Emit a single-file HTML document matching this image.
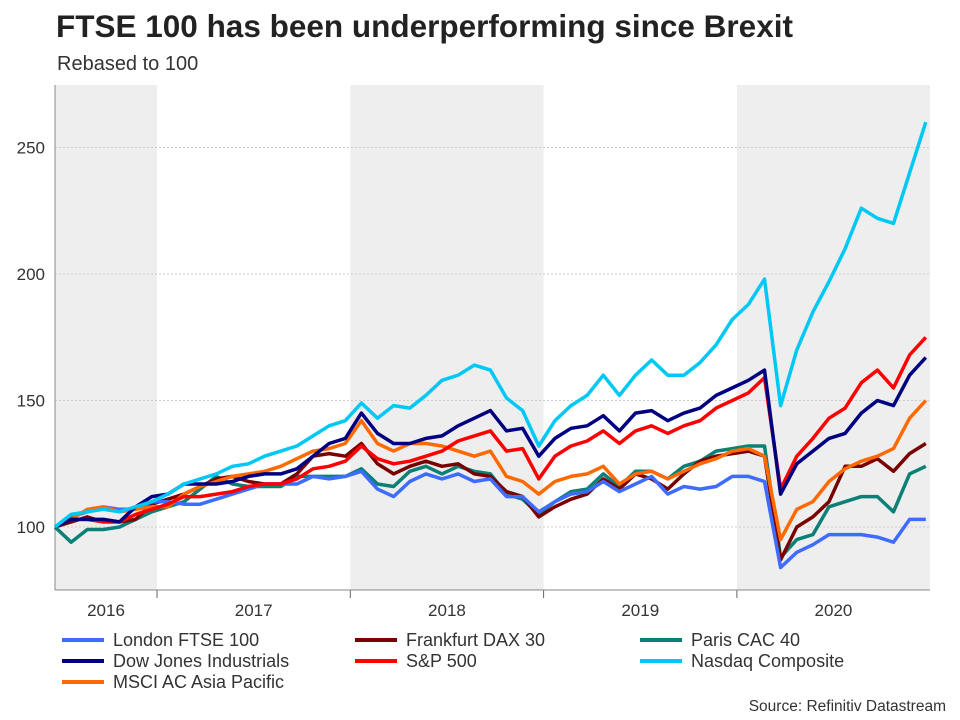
<!DOCTYPE html>
<html><head><meta charset="utf-8"><style>
body{margin:0;background:#fff;font-family:"Liberation Sans",sans-serif;}
</style></head><body>
<svg id="chart" width="960" height="720" viewBox="0 0 960 720" style="display:block;font-family:'Liberation Sans',sans-serif">
<text x="56" y="37" font-size="31.5" font-weight="bold" fill="#222">FTSE 100 has been underperforming since Brexit</text>
<text x="57" y="70" font-size="20" fill="#333">Rebased to 100</text>
<g id="bands"></g><g id="grid"></g><g id="axes"></g><g id="series"></g><g id="legend"></g>
<text x="946" y="711" font-size="15.5" fill="#333" text-anchor="end">Source: Refinitiv Datastream</text>
</svg>
<script>
const yTicks=[100,150,200,250];
const years=["2016","2017","2018","2019","2020"];
const names=["London FTSE 100","Frankfurt DAX 30","Paris CAC 40","Dow Jones Industrials","S&P 500","Nasdaq Composite","MSCI AC Asia Pacific"];
const colors=["#3d6cff","#7a0000","#0a8077","#000080","#ff0000","#00c8f5","#ff6a00"];
const ftse=[100,104,106,108,107,107,110,110,109,109,111,113,115,117,117,117,120,119,120,122,115,112,118,121,119,121,118,119,112,112,106,110,113,114,118,114,117,120,113,116,115,116,120,120,118,84,90,93,97,97,97,96,94,103,103];
const dax=[100,102,104,102,102,103,109,111,113,116,119,120,118,117,117,121,128,129,128,133,125,121,124,126,124,125,121,120,114,112,104,108,111,113,119,115,121,119,115,121,126,128,129,130,128,87,100,104,110,124,124,127,122,129,133];
const cac=[100,94,99,99,100,103,106,108,110,115,120,117,116,116,116,120,120,120,120,123,117,116,122,124,121,124,122,121,113,111,105,110,114,115,121,116,122,122,119,124,126,130,131,132,132,88,95,97,108,110,112,112,106,121,124];
const dow=[100,103,103,103,102,108,112,113,117,117,117,118,120,121,121,123,128,133,135,145,137,133,133,135,136,140,143,146,138,139,128,135,139,140,144,138,145,146,142,145,147,152,155,158,162,113,125,130,135,137,145,150,148,160,167];
const spx=[100,103,103,102,102,105,107,109,112,112,113,114,116,117,117,119,123,124,126,132,127,125,126,128,130,134,136,138,130,131,119,128,132,134,138,133,138,140,137,140,142,147,150,153,159,115,128,135,143,147,157,162,155,168,175];
const ndq=[100,105,106,107,106,108,110,113,117,119,121,124,125,128,130,132,136,140,142,149,143,148,147,152,158,160,164,162,151,146,132,142,148,152,160,152,160,166,160,160,165,172,182,188,198,148,170,185,197,210,226,222,220,240,260];
const asia=[100,103,107,108,106,107,108,108,113,116,118,120,121,122,124,127,130,131,133,142,133,130,133,133,132,130,128,130,120,118,113,118,120,121,124,117,121,122,119,122,125,127,130,131,128,95,107,110,118,123,126,128,131,143,150];
const seriesData=[ftse,dax,cac,dow,spx,ndq,asia];
const drawOrder=[2,1,0,6,4,3,5];
const NS="http://www.w3.org/2000/svg";
const X0=55,X1=930,Y0=85,Y1=590;
const yS=v=>527-(v-100)*2.53;
const xS=m=>55+m*16.125;
const yearX=i=>157+(i-1)*193.3;
function mk(tag,attrs,parent){const e=document.createElementNS(NS,tag);for(const k in attrs)e.setAttribute(k,attrs[k]);parent.appendChild(e);return e;}
const bands=document.getElementById('bands'),grid=document.getElementById('grid'),axes=document.getElementById('axes'),ser=document.getElementById('series'),leg=document.getElementById('legend');
years.forEach((y,i)=>{
  const a=Math.max(X0,yearX(i)),b=Math.min(X1,yearX(i+1));
  if(i%2===0){const r=mk('rect',{x:a,y:Y0,width:b-a,height:Y1-Y0,fill:'#eeeeee'},bands);
  
  }
  const t=mk('text',{x:(a+b)/2,y:616,'font-size':17,fill:'#333','text-anchor':'middle'},axes);t.textContent=y;
  
  
  if(i>0){const tk=mk('line',{x1:yearX(i),x2:yearX(i),y1:Y1,y2:Y1+8,stroke:'#666'},axes);
  
  }
});
yTicks.forEach(v=>{
  const g=mk('line',{x1:X0,x2:X1,y1:yS(v),y2:yS(v),stroke:'#ccc','stroke-dasharray':'2,2'},grid);
  
  
  const t=mk('text',{x:45,y:yS(v)+6,'font-size':17,fill:'#333','text-anchor':'end'},axes);t.textContent=v;
  
  
});
const ax=mk('line',{x1:X0,x2:X0,y1:Y0,y2:Y1,stroke:'#888'},axes);


const bx=mk('line',{x1:X0,x2:X1,y1:Y1,y2:Y1,stroke:'#888'},axes);


drawOrder.forEach(si=>{
  const d=seriesData[si].map((v,m)=>(m?'L':'M')+xS(m).toFixed(1)+','+yS(v).toFixed(1)).join('');
  const p=mk('path',{d:d,fill:'none',stroke:colors[si],'stroke-width':3.5,'stroke-linejoin':'round'},ser);
  
  
});
const lx=[62,355,640],ly=[640,661,682];
names.forEach((n,i)=>{
  const x=lx[i%3],y=ly[Math.floor(i/3)];
  const g=mk('g',{},leg);
  
  
  mk('line',{x1:x,x2:x+42,y1:y,y2:y,stroke:colors[i],'stroke-width':4},g);
  const t=mk('text',{x:x+51,y:y+6,'font-size':18,fill:'#333'},g);t.textContent=n;
});
</script>
</body></html>
